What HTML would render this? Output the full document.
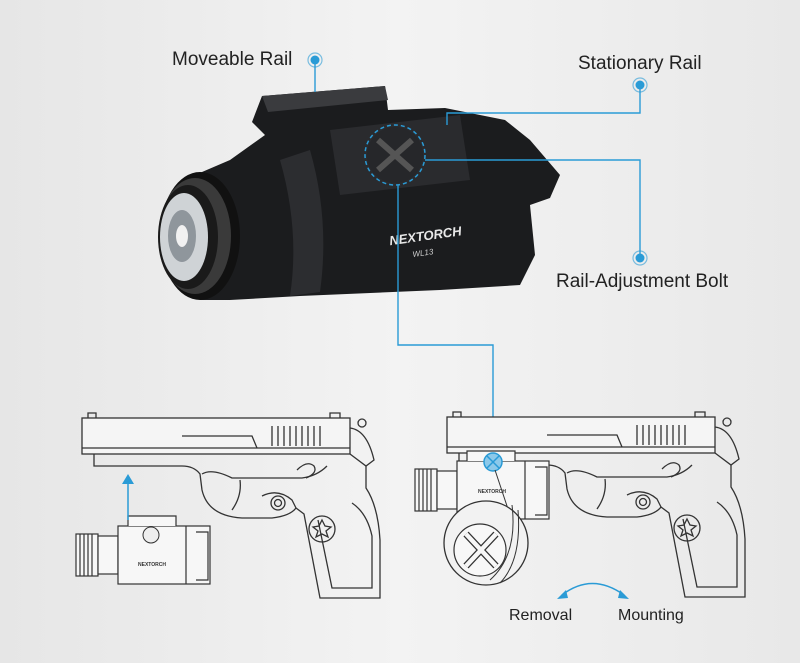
<!DOCTYPE html>
<html><head><meta charset="utf-8"><style>
html,body{margin:0;padding:0}
body{width:800px;height:663px;overflow:hidden;background:linear-gradient(90deg,#e6e6e6,#f3f3f3 50%,#e8e8e8);font-family:"Liberation Sans",sans-serif}
svg{display:block}
</style></head><body>
<svg width="800" height="663" viewBox="0 0 800 663" xmlns="http://www.w3.org/2000/svg">
<defs>
<g id="pistol" fill="none" stroke="#333" stroke-width="1.3">
  <path d="M6,0 L6,-5 L14,-5 L14,0"/>
  <path d="M248,0 L248,-5 L258,-5 L258,0"/>
  <rect x="0" y="0" width="268" height="36" fill="#f5f5f5"/>
  <path d="M0,30 L268,30"/>
  <path d="M100,18 L170,18 L175,30"/>
  <path d="M190,8 L190,28 M196,8 L196,28 M202,8 L202,28 M208,8 L208,28 M214,8 L214,28 M220,8 L220,28 M226,8 L226,28 M232,8 L232,28 M238,8 L238,28"/>
  <path d="M268,10 Q285,12 292,42 L284,48 L268,36"/>
  <circle cx="280" cy="5" r="4"/>
  <path d="M12,36 L12,48 L100,48 Q112,48 118,56 L120,72 Q126,98 160,100 L190,100 Q208,98 214,90 L222,96 L238,180 L298,180 L298,122 Q296,88 284,70 L284,48"/>
  <path d="M120,56 Q130,50 150,60 L220,60 Q235,58 245,48"/>
  <path d="M158,62 Q160,78 150,92"/>
  <path d="M236,102 L250,170 L290,170 L290,118 Q285,95 270,85"/>
  <circle cx="240" cy="111" r="13"/>
  <path d="M240,102 L243,108 L249,109 L244,113 L246,119 L240,116 L234,119 L236,113 L231,109 L237,108 Z"/>
  <circle cx="196" cy="85" r="7"/><circle cx="196" cy="85" r="3.5"/>
  <path d="M180,78 Q196,70 210,82 L214,90"/>
  <path d="M215,52 Q225,42 232,48 Q236,55 224,60"/>
</g>
<g id="smallLight" fill="#f7f7f7" stroke="#333" stroke-width="1.2">
  <rect x="0" y="12" width="22" height="42"/>
  <path d="M4,12 L4,54 M8,12 L8,54 M12,12 L12,54 M16,12 L16,54" />
  <rect x="22" y="14" width="20" height="38"/>
  <rect x="42" y="4" width="92" height="58"/>
  <path d="M52,4 L52,-6 L100,-6 L100,4"/>
  <path d="M110,4 L110,62 M120,10 L132,10 L132,58 L120,58"/>
</g>
</defs>

<!-- main flashlight -->
<g>
  <path d="M252,122 L262,96 L385,86 L388,110 L445,108 L505,120 L530,140 L560,175 L550,198 L530,205 L535,255 L520,285 L440,290 L300,296 L230,300 L200,300 L195,175 L230,160 L265,135 Z" fill="#1b1c1e"/>
  <path d="M262,96 L385,86 L388,100 L268,112 Z" fill="#3a3b3e"/>
  <path d="M330,130 L460,115 L470,180 L340,195 Z" fill="#2a2b2e"/>
  <path d="M280,160 Q300,230 290,296 L320,292 Q330,220 310,150 Z" fill="#2c2d30"/>
  <ellipse cx="200" cy="236" rx="40" ry="64" fill="#111"/>
  <ellipse cx="195" cy="236" rx="36" ry="58" fill="#3a3a3a"/>
  <ellipse cx="188" cy="237" rx="30" ry="52" fill="#1a1a1a"/>
  <ellipse cx="184" cy="237" rx="24" ry="44" fill="#cfd3d6"/>
  <ellipse cx="182" cy="236" rx="14" ry="26" fill="#8f969c"/>
  <ellipse cx="182" cy="236" rx="6" ry="11" fill="#f1f1f1"/>
  <circle cx="395" cy="155" r="28" fill="#26272a"/>
  <path d="M378,140 L412,170 M412,140 L378,170" stroke="#555" stroke-width="6"/>
  <circle cx="395" cy="155" r="30" fill="none" stroke="#2a9bd6" stroke-width="1.5" stroke-dasharray="4,3"/>
  <text x="389" y="241" fill="#e8e8e8" font-size="13" font-weight="bold" font-style="italic" transform="rotate(-8 420 236)">NEXTORCH</text>
  <text x="412" y="256" fill="#ccc" font-size="8" font-style="italic" transform="rotate(-8 420 250)">WL13</text>
</g>

<!-- callout lines -->
<g stroke="#2a9bd6" stroke-width="1.4" fill="none">
  <path d="M315,60 L315,92"/>
  <path d="M640,85 L640,113 L447,113 L447,125"/>
  <path d="M640,258 L640,160 L425,160"/>
  <path d="M398,185 L398,345 L493,345 L493,462"/>
</g>
<g fill="#2a9bd6">
  <circle cx="315" cy="60" r="4.5"/><circle cx="640" cy="85" r="4.5"/><circle cx="640" cy="258" r="4.5"/>
</g>
<g fill="#fff" stroke="#2a9bd6" stroke-width="1.2" opacity=".6">
  <circle cx="315" cy="60" r="7" fill="none"/><circle cx="640" cy="85" r="7" fill="none"/><circle cx="640" cy="258" r="7" fill="none"/>
</g>

<text x="172" y="65" font-size="19" fill="#222">Moveable Rail</text>
<text x="578" y="69" font-size="19" fill="#222">Stationary Rail</text>
<text x="556" y="287" font-size="19" fill="#222">Rail-Adjustment Bolt</text>

<!-- pistols -->
<use href="#pistol" x="82" y="418"/>
<use href="#pistol" x="447" y="417"/>

<!-- left small light + arrow -->
<use href="#smallLight" x="76" y="522"/>
<text x="138" y="566" font-size="5" font-weight="bold" fill="#333">NEXTORCH</text>
<path d="M128,520 L128,482" stroke="#2a9bd6" stroke-width="1.5"/>
<path d="M122,484 L128,474 L134,484 Z" fill="#2a9bd6"/>
<circle cx="151" cy="535" r="8" fill="#eee" stroke="#333"/>

<!-- right small light -->
<use href="#smallLight" x="415" y="457"/>
<text x="478" y="493" font-size="5" font-weight="bold" fill="#333">NEXTORCH</text>
<circle cx="493" cy="462" r="9" fill="#8cc9ea" stroke="#2a9bd6" stroke-width="1.5"/>
<path d="M487,456 L499,468 M499,456 L487,468" stroke="#2a9bd6" stroke-width="1.5"/>
<!-- magnifier -->
<path d="M495,470 L510,515" stroke="#333" stroke-width="1"/>
<circle cx="486" cy="543" r="42" fill="#f2f2f2" stroke="#333" stroke-width="1.3"/>
<circle cx="480" cy="550" r="26" fill="#f8f8f8" stroke="#333" stroke-width="1.2"/>
<path d="M466,534 L496,566 M496,534 L466,566" stroke="#333" stroke-width="7"/>
<path d="M466,534 L496,566 M496,534 L466,566" stroke="#f8f8f8" stroke-width="4.5"/>
<path d="M512,505 Q518,555 490,580 M518,510 Q522,560 500,583" stroke="#333" fill="none"/>

<!-- arc arrow -->
<path d="M562,595 Q592,572 624,595" stroke="#2a9bd6" stroke-width="1.5" fill="none"/>
<path d="M557,599 L566,590 L568,598 Z" fill="#2a9bd6"/>
<path d="M629,599 L620,590 L618,598 Z" fill="#2a9bd6"/>
<text x="509" y="620" font-size="16" fill="#222">Removal</text>
<text x="618" y="620" font-size="16" fill="#222">Mounting</text>
</svg>
</body></html>
